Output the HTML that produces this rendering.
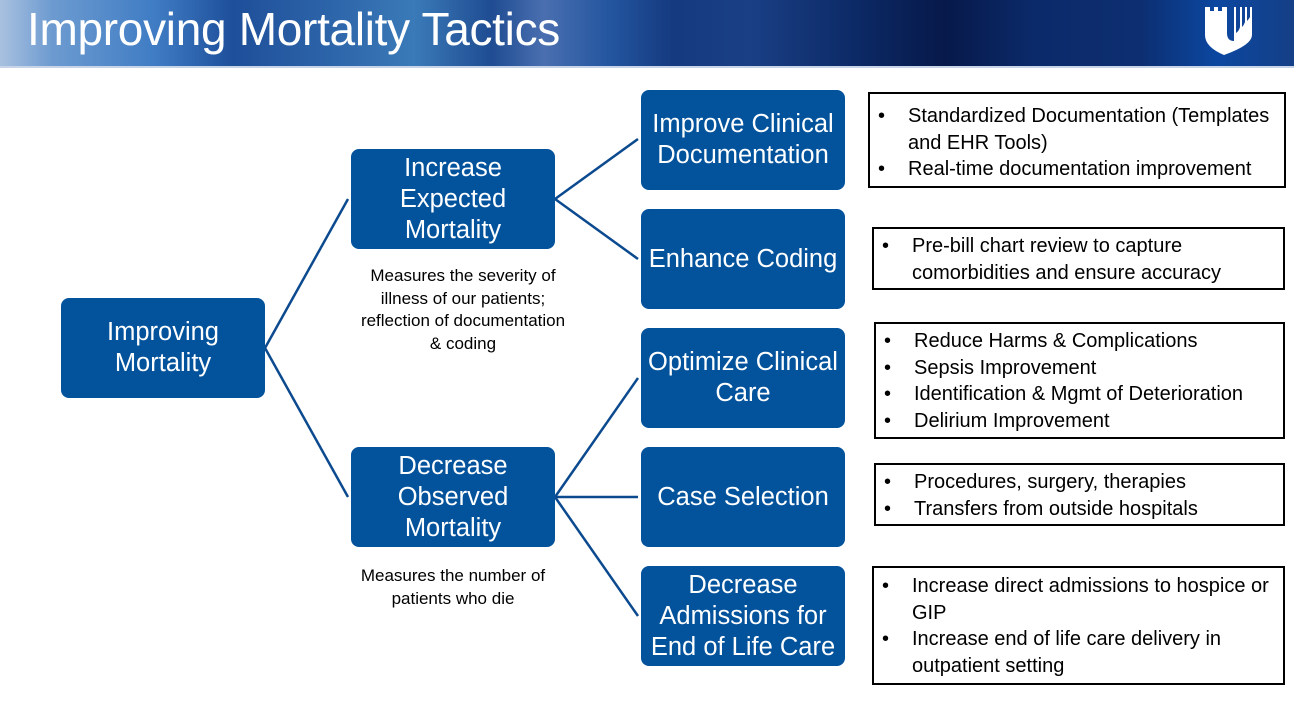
<!DOCTYPE html>
<html><head><meta charset="utf-8"><style>
*{margin:0;padding:0;box-sizing:border-box}
body{width:1294px;height:718px;overflow:hidden;background:#fff;font-family:"Liberation Sans",sans-serif;position:relative}
.hdr{position:absolute;left:0;top:0;width:1294px;height:68px;
background:linear-gradient(90deg,#a9c1e0 0%,#6d9bd0 4%,#3f7cc4 12%,#1e4f9a 18%,#2c63a8 25%,#3a7ab8 32%,#1f4c92 38%,#4a6fb0 42%,#2456a0 47%,#153a80 52%,#1a3f85 58%,#0c2a66 66%,#07194a 73%,#0b2a6a 80%,#0d2e70 88%,#0b47a0 94%,#153f86 100%);
border-bottom:2px solid #c7d3e6}
.title{position:absolute;left:27px;top:2px;color:#fff;font-size:46px;letter-spacing:-0.3px}
.b{position:absolute;background:#02529c;color:#fff;border-radius:8px;display:flex;align-items:center;justify-content:center;text-align:center;font-size:25.5px;line-height:31px;width:204px;height:100px;white-space:nowrap}
.t{position:absolute;border:2px solid #000;font-size:20px;line-height:26.5px;color:#000;padding:0 6px 0 0}
.t ul{list-style:none}
.t li{position:relative;padding-left:38px}
.t li:before{content:"•";position:absolute;left:8px}
.cap{position:absolute;font-size:17px;line-height:22.5px;text-align:center;color:#000}
</style></head><body>
<div class="hdr"></div>
<div class="title">Improving Mortality Tactics</div>
<svg style="position:absolute;left:1205px;top:5px" width="58" height="52" viewBox="0 0 58 52">
<path d="M0 2h5v4h4V2h4v4h4V2h5v26q0 8 7 8V2h2v26q3-2 4-6V2h2v20q2-2 3-5V2h2v14q2-2 3-4V2h2v28q0 10-28 20Q0 42 0 30z" fill="#fff"/>
</svg>
<svg style="position:absolute;left:0;top:0" width="1294" height="718">
<g stroke="#0c4a8f" stroke-width="2.5" fill="none">
<line x1="265" y1="348" x2="348" y2="199"/>
<line x1="265" y1="348" x2="348" y2="497"/>
<line x1="555" y1="199" x2="638" y2="139"/>
<line x1="555" y1="199" x2="638" y2="259"/>
<line x1="555" y1="497" x2="638" y2="378"/>
<line x1="555" y1="497" x2="638" y2="497"/>
<line x1="555" y1="497" x2="638" y2="616"/>
</g></svg>
<div class="b" style="left:61px;top:298px">Improving<br>Mortality</div>
<div class="b" style="left:351px;top:149px">Increase<br>Expected<br>Mortality</div>
<div class="b" style="left:351px;top:447px">Decrease<br>Observed<br>Mortality</div>
<div class="b" style="left:641px;top:90px">Improve Clinical<br>Documentation</div>
<div class="b" style="left:641px;top:209px">Enhance Coding</div>
<div class="b" style="left:641px;top:328px">Optimize Clinical<br>Care</div>
<div class="b" style="left:641px;top:447px">Case Selection</div>
<div class="b" style="left:641px;top:566px">Decrease<br>Admissions for<br>End of Life Care</div>
<div class="cap" style="left:333px;top:265px;width:260px">Measures the severity of<br>illness of our patients;<br>reflection of documentation<br>&amp; coding</div>
<div class="cap" style="left:323px;top:565px;width:260px">Measures the number of<br>patients who die</div>
<div class="t" style="left:868px;top:92px;width:418px;height:96px;padding-top:9px"><ul><li>Standardized Documentation (Templates and EHR Tools)</li><li>Real-time documentation improvement</li></ul></div>
<div class="t" style="left:872px;top:227px;width:413px;height:63px;padding-top:4px"><ul><li>Pre-bill chart review to capture comorbidities and ensure accuracy</li></ul></div>
<div class="t" style="left:874px;top:322px;width:411px;height:117px;padding-top:4px"><ul><li>Reduce Harms &amp; Complications</li><li>Sepsis Improvement</li><li>Identification &amp; Mgmt of Deterioration</li><li>Delirium Improvement</li></ul></div>
<div class="t" style="left:874px;top:463px;width:411px;height:63px;padding-top:4px"><ul><li>Procedures, surgery, therapies</li><li>Transfers from outside hospitals</li></ul></div>
<div class="t" style="left:872px;top:566px;width:413px;height:119px;padding-top:5px"><ul><li>Increase direct admissions to hospice or GIP</li><li>Increase end of life care delivery in outpatient setting</li></ul></div>
</body></html>
